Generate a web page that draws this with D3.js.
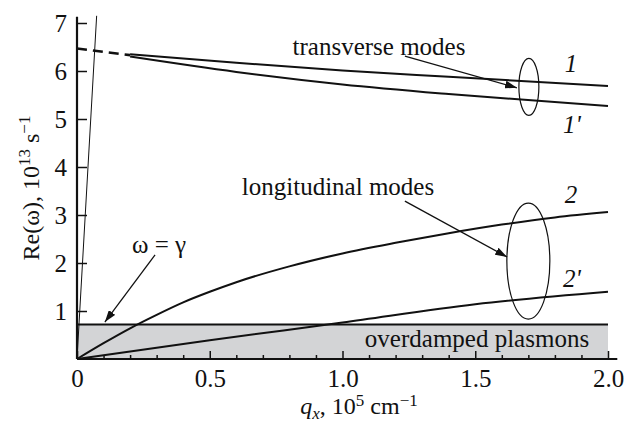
<!DOCTYPE html>
<html>
<head>
<meta charset="utf-8">
<script src="https://cdn.jsdelivr.net/npm/d3@7"></script>
<style>
	body { margin: 0; background: #fff; }
</style>
</head>
<body>
<svg id="chart" width="637" height="430"></svg>
<script>
// axis ticks
var xTicks = [0, 0.5, 1.0, 1.5, 2.0];
var xTickLabels = ["0", "0.5", "1.0", "1.5", "2.0"];
var xMinorTicks = [0.1, 0.2, 0.3, 0.4, 0.6, 0.7, 0.8, 0.9, 1.1, 1.2, 1.3, 1.4, 1.6, 1.7, 1.8, 1.9];
var yTicks = [1, 2, 3, 4, 5, 6, 7];

// transverse modes (1 and 1')
var qTrans = [0.2, 0.6, 1.0, 1.4, 2.0];
var mode1 = [6.35, 6.17, 6.01, 5.88, 5.69];
var mode1p = [6.30, 5.98, 5.72, 5.52, 5.27];
// dashed start of the transverse branch
var qDash = [0, 0.2];
var modeDash = [6.47, 6.33];

// longitudinal modes (2 and 2')
var qLong = [0, 0.1, 0.2, 0.3, 0.4, 0.5, 0.6, 0.8, 1.0, 1.2, 1.4, 1.6, 1.8, 2.0];
var mode2 = [0, 0.33, 0.64, 0.92, 1.18, 1.40, 1.60, 1.93, 2.20, 2.42, 2.62, 2.80, 2.95, 3.06];
var qLong2 = [0, 0.5, 1.0, 1.5, 2.0];
var mode2p = [0, 0.39, 0.76, 1.14, 1.40];

// steep thin line near the axis
var qSteep = [0, 0.074];
var steep = [0, 7.15];

// overdamped region: omega below gamma
var bandQ = [0, 2.0];
var bandLevel = 0.72;

var FONT = "'Liberation Serif', 'Times New Roman', Times, serif";

var svg = d3.select("#chart");
var x = d3.scaleLinear().domain([0, 2]).range([77, 608]);
var y = d3.scaleLinear().domain([0, 7]).range([359, 23]);

var line = d3.line()
	.x(function(d) { return x(d[0]); })
	.y(function(d) { return y(d[1]); })
	.curve(d3.curveMonotoneX);

function zip(a, b) { return a.map(function(v, i) { return [v, b[i]]; }); }

svg.append("defs").append("marker")
	.attr("id", "arrow")
	.attr("viewBox", "0 0 12 8")
	.attr("refX", 12).attr("refY", 4)
	.attr("markerWidth", 12).attr("markerHeight", 8)
	.attr("markerUnits", "userSpaceOnUse")
	.attr("orient", "auto")
	.append("path").attr("d", "M0,0L12,4L0,8Z").attr("fill", "#111");

// gray band
svg.append("rect")
	.attr("x", x(bandQ[0])).attr("y", y(bandLevel))
	.attr("width", x(bandQ[1]) - x(bandQ[0]))
	.attr("height", y(0) - y(bandLevel))
	.attr("fill", "#d3d4d6");
svg.append("line")
	.attr("x1", x(bandQ[0])).attr("x2", x(bandQ[1]))
	.attr("y1", y(bandLevel)).attr("y2", y(bandLevel))
	.attr("stroke", "#111").attr("stroke-width", 2);

// axes
var xMinor = d3.axisBottom(x).tickValues(xMinorTicks).tickSizeInner(-4).tickSizeOuter(0).tickFormat("");
var xMajor = d3.axisBottom(x).tickValues(xTicks).tickSizeInner(-8).tickSizeOuter(0).tickPadding(10)
	.tickFormat(function(d, i) { return xTickLabels[i]; });
var yAxis = d3.axisLeft(y).tickValues(yTicks).tickSizeInner(-10).tickSizeOuter(0).tickPadding(10)
	.tickFormat(d3.format("d"));

function styleAxis(g) {
	g.attr("font-family", null).attr("font-size", null);
	g.select(".domain").remove();
	g.selectAll(".tick line").attr("stroke", "#111").attr("stroke-width", 1.5);
	g.selectAll(".tick text")
		.style("font-family", FONT).style("font-size", "25px").attr("fill", "#111");
}
[xMinor, xMajor].forEach(function(ax) {
	svg.append("g").attr("transform", "translate(0," + y(0) + ")").call(ax).call(styleAxis);
});
svg.append("g").attr("transform", "translate(" + x(0) + ",0)").call(yAxis).call(styleAxis);

svg.append("line")
	.attr("x1", x(0)).attr("x2", x(2.035)).attr("y1", y(0)).attr("y2", y(0))
	.attr("stroke", "#111").attr("stroke-width", 2.2);
svg.append("line")
	.attr("x1", x(0)).attr("x2", x(0)).attr("y1", y(0)).attr("y2", y(7.13))
	.attr("stroke", "#111").attr("stroke-width", 2.2);

// curves
svg.append("path").datum(zip(qSteep, steep)).attr("d", line)
	.attr("fill", "none").attr("stroke", "#111").attr("stroke-width", 1);
svg.append("path").datum(zip(qDash, modeDash)).attr("d", line)
	.attr("fill", "none").attr("stroke", "#111").attr("stroke-width", 2.6)
	.attr("stroke-dasharray", "10,6");
[[qTrans, mode1], [qTrans, mode1p], [qLong, mode2], [qLong2, mode2p]].forEach(function(s) {
	svg.append("path").datum(zip(s[0], s[1])).attr("d", line)
		.attr("fill", "none").attr("stroke", "#111").attr("stroke-width", 2);
});

// ellipses grouping the modes
var ellipses = [
	{q: 1.702, v: 5.67, rx: 10, ry: 28.5},
	{q: 1.70, v: 2.04, rx: 21.5, ry: 58}
];
svg.selectAll(".ell").data(ellipses).enter().append("ellipse")
	.attr("cx", function(d) { return x(d.q); })
	.attr("cy", function(d) { return y(d.v); })
	.attr("rx", function(d) { return d.rx; })
	.attr("ry", function(d) { return d.ry; })
	.attr("fill", "none").attr("stroke", "#111").attr("stroke-width", 1.2);

// arrows
var arrows = [
	{q1: 1.235, v1: 6.31, q2: 1.657, v2: 5.65},
	{q1: 1.235, v1: 3.29, q2: 1.62, v2: 2.125},
	{q1: 0.294, v1: 2.167, q2: 0.105, v2: 0.77}
];
svg.selectAll(".arr").data(arrows).enter().append("line")
	.attr("x1", function(d) { return x(d.q1); })
	.attr("y1", function(d) { return y(d.v1); })
	.attr("x2", function(d) { return x(d.q2); })
	.attr("y2", function(d) { return y(d.v2); })
	.attr("stroke", "#111").attr("stroke-width", 1.3)
	.attr("marker-end", "url(#arrow)");

// labels
function label(px, py, txt, opts) {
	opts = opts || {};
	return svg.append("text")
		.attr("x", px).attr("y", py)
		.attr("text-anchor", opts.anchor || "middle")
		.attr("fill", "#111")
		.style("font-family", FONT)
		.style("font-size", (opts.size || 25) + "px")
		.style("font-style", opts.italic ? "italic" : "normal")
		.text(txt);
}
label(379, 55, "transverse modes");
label(338, 195, "longitudinal modes");
label(477, 347, "overdamped plasmons");
label(159, 253, "ω = γ");
label(571, 72, "1", {italic: true});
label(572, 133, "1'", {italic: true});
label(571, 203, "2", {italic: true});
label(572, 287, "2'", {italic: true});

// y axis title
var yt = svg.append("text")
	.attr("transform", "translate(39,188) rotate(-90)")
	.attr("text-anchor", "middle")
	.attr("fill", "#111")
	.style("font-family", FONT)
	.style("font-size", "24px");
yt.append("tspan").text("Re(ω), 10");
yt.append("tspan").attr("dy", -9).style("font-size", "17px").text("13");
yt.append("tspan").attr("dy", 9).text(" s");
yt.append("tspan").attr("dy", -9).style("font-size", "17px").text("−1");

// x axis title
var xt = svg.append("text")
	.attr("x", 359).attr("y", 414)
	.attr("text-anchor", "middle")
	.attr("fill", "#111")
	.style("font-family", FONT)
	.style("font-size", "24px");
xt.append("tspan").style("font-style", "italic").text("q");
xt.append("tspan").attr("dy", 5).style("font-size", "17px").style("font-style", "italic").text("x");
xt.append("tspan").attr("dy", -5).text(", 10");
xt.append("tspan").attr("dy", -8).style("font-size", "17px").text("5");
xt.append("tspan").attr("dy", 8).text(" cm");
xt.append("tspan").attr("dy", -8).style("font-size", "17px").text("−1");
</script>
</body>
</html>
